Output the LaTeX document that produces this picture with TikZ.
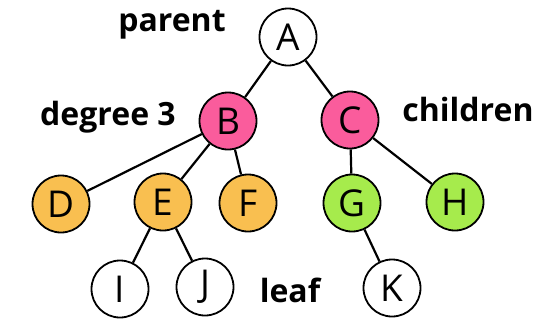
\documentclass[tikz,border=0pt]{standalone}
\usepackage{fontspec}
\setmainfont{Open Sans}
\usepackage{xcolor}
\definecolor{nodepink}{HTML}{FA5C9C}
\definecolor{nodeorange}{HTML}{F9BF50}
\definecolor{nodegreen}{HTML}{A6EB4C}
\usepackage{tikz}
\usetikzlibrary{positioning}

\begin{document}
\begin{tikzpicture}[x=1pt, y=-1pt,
    tnode/.style={draw=black, circle, line width=1.8pt, minimum size=57pt,
                  inner sep=0pt, font=\fontsize{37}{37}\selectfont},
    edge/.style={line width=2.2pt},
    tag/.style={font=\fontsize{32}{32}\selectfont\bfseries}]
    \useasboundingbox (0,0) rectangle (551,325);

    % tree nodes
    \node[tnode, fill=white]      (A) at (288,37)  {A};
    \node[tnode, fill=nodepink]   (B) at (228,121) {B};
    \node[tnode, fill=nodepink]   (C) at (350,120) {C};
    \node[tnode, fill=nodeorange] (D) at (61,204)  {D};
    \node[tnode, fill=nodeorange] (E) at (163,202) {E};
    \node[tnode, fill=nodeorange] (F) at (248,203) {F};
    \node[tnode, fill=nodegreen]  (G) at (352,203) {G};
    \node[tnode, fill=nodegreen]  (H) at (455,202) {H};
    \node[tnode, fill=white]      (I) at (120,289) {I};
    \node[tnode, fill=white]      (J) at (205,287) {J};
    \node[tnode, fill=white]      (K) at (392,288) {K};

    % edges
    \draw[edge] (A) -- (B);
    \draw[edge] (A) -- (C);
    \draw[edge] (B) -- (D);
    \draw[edge] (B) -- (E);
    \draw[edge] (B) -- (F);
    \draw[edge] (C) -- (G);
    \draw[edge] (C) -- (H);
    \draw[edge] (E) -- (I);
    \draw[edge] (E) -- (J);
    \draw[edge] (G) -- (K);

    % labels
    \node[tag] (parent)   at (172,25)  {parent};
    \node[tag] (degree)   at (108,117) {degree 3};
    \node[tag] (children) at (468,109) {children};
    \node[tag] (leaf)     at (290,290) {leaf};
\end{tikzpicture}
\end{document}
